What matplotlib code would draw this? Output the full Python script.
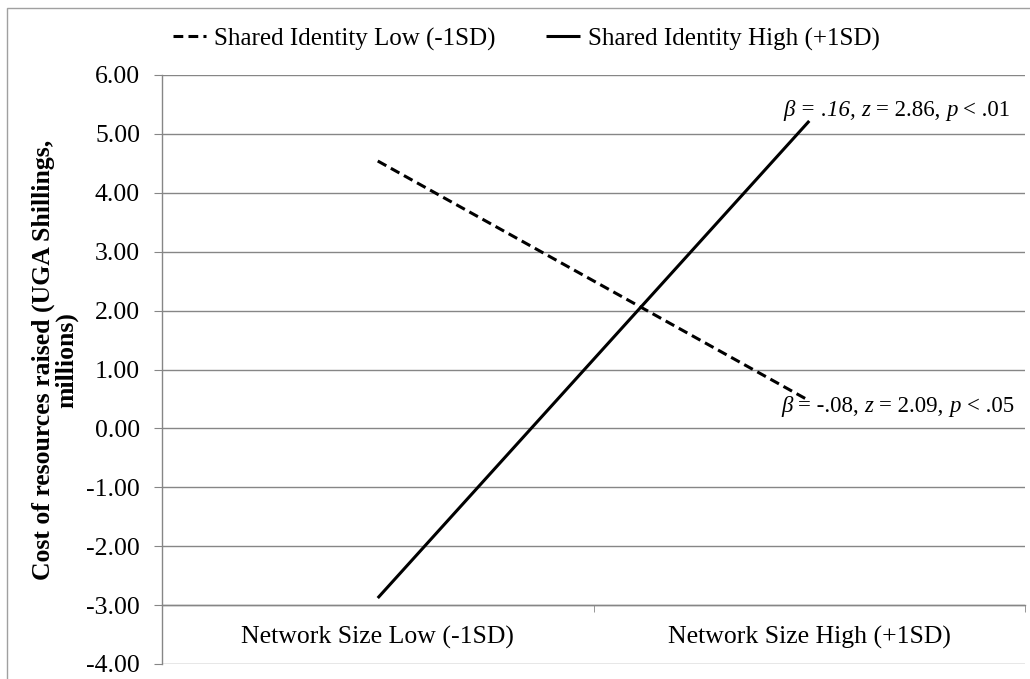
import matplotlib
matplotlib.use("Agg")
import matplotlib.pyplot as plt
from matplotlib.patches import Rectangle

plt.rcParams['font.family'] = ['Liberation Serif', 'DejaVu Serif']

categories = ["Network Size Low (-1SD)", "Network Size High (+1SD)"]
low_identity = [4.54, 0.47]
high_identity = [-2.88, 5.22]
series_labels = ["Shared Identity Low (-1SD)", "Shared Identity High (+1SD)"]
y_ticks = [-4, -3, -2, -1, 0, 1, 2, 3, 4, 5, 6]
ylabel = "Cost of resources raised (UGA Shillings,\nmillions)"
# (text, italic?) pieces, joined by a space
annot_high = [("β = .16,", True), ("z", True), ("= 2.86,", False), ("p", True), ("< .01", False)]
annot_low = [("β", True), ("= -.08,", False), ("z", True), ("= 2.09,", False), ("p", True), ("< .05", False)]

W, H = 1030, 679
fig = plt.figure(figsize=(W/100, H/100), dpi=100)
ax = fig.add_axes([162/W, 1-664/H, (1025-162)/W, (664-75)/H])

grid_c = '#868686'
fs = 18.5

# chart area border
fig.patches.append(Rectangle((7/W, -0.1), 1.2, 1-8/H+0.1, transform=fig.transFigure,
                             fill=False, edgecolor='#a0a0a0', linewidth=1.0))

x = list(range(len(categories)))
l1, = ax.plot(x, low_identity, color='black', linewidth=2.2, linestyle=(0, (3.2, 1.7)),
              label=series_labels[0], solid_capstyle='butt', dash_capstyle='butt')
l2, = ax.plot(x, high_identity, color='black', linewidth=2.2, linestyle='-',
              label=series_labels[1], solid_capstyle='butt')

ax.set_xlim(-0.5, 1.5)
ax.set_ylim(-4, 6)
ax.set_yticks(y_ticks)
ax.set_yticklabels([f"{v:.2f}" for v in y_ticks], fontsize=fs)
ax.yaxis.grid(True, color=grid_c, linewidth=1.0)
ax.set_axisbelow(True)

for s in ['top', 'right']:
    ax.spines[s].set_visible(False)
ax.spines['left'].set_color(grid_c)
ax.spines['bottom'].set_color(grid_c)
ax.spines['bottom'].set_position(('data', -3))
ax.spines['left'].set_linewidth(1.0)
ax.spines['bottom'].set_linewidth(1.0)

ax.set_xticks(x)
ax.set_xticklabels(categories, fontsize=fs)
ax.tick_params(axis='x', which='major', length=0, pad=15)
ax.set_xticks([-0.5, 0.5, 1.5], minor=True)
ax.tick_params(axis='x', which='minor', length=5, color=grid_c, direction='out')
ax.tick_params(axis='y', which='major', length=5.8, color=grid_c, direction='out', pad=10)

afs = 16.5
space_pt = 0.25 * afs


def chained_text(pieces, xfrac, yval):
    last_txt, last_it = pieces[-1]
    t = ax.text(xfrac, yval, last_txt, transform=ax.get_yaxis_transform(), ha='right', va='center',
                fontsize=afs, fontstyle='italic' if last_it else 'normal')
    for txt, it in reversed(pieces[:-1]):
        t = ax.annotate(txt, xy=(0, 0), xycoords=t, xytext=(-space_pt, 0), textcoords='offset points',
                        ha='right', va='bottom', fontsize=afs,
                        fontstyle='italic' if it else 'normal')


chained_text(annot_high, 0.983, 5.40)
chained_text(annot_low, 0.987, 0.38)

fig.text(55/W, 1-360/H, ylabel, rotation=90, ha='center', va='center', multialignment='center',
         fontsize=fs, fontweight='bold', linespacing=1.0)

fig.legend(handles=[l1, l2], loc='center', bbox_to_anchor=(526/W, 1-39/H), ncol=2, frameon=False,
           fontsize=18, handlelength=1.35, handletextpad=0.32, columnspacing=2.0, borderaxespad=0)

fig.savefig("out.png", dpi=100)
